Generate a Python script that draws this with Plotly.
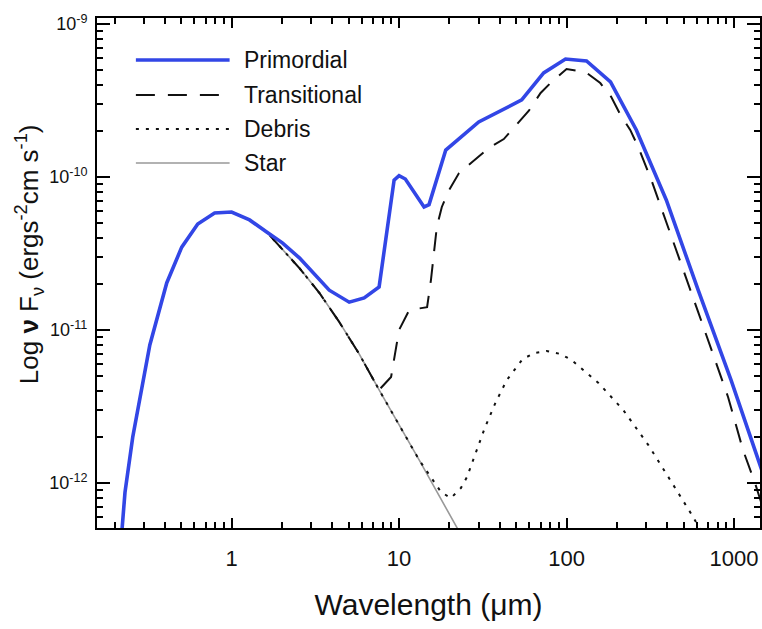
import plotly.graph_objects as go
import numpy as np

# ---------------- data (wavelength in micron, nu F_nu in erg s^-1 cm^-2) -------------
star_wl = [0.218, 0.231, 0.257, 0.325, 0.410, 0.504, 0.628, 0.792, 1.0, 1.28, 1.62,
           1.93, 2.54, 3.34, 4.39, 5.78, 7.60, 13.2, 22.2, 26.1]
star_f = [3.94e-13, 8.7e-13, 2.0e-12, 7.98e-12, 2.03e-11, 3.48e-11, 4.93e-11, 5.82e-11,
          5.90e-11, 5.24e-11, 4.37e-11, 3.54e-11, 2.54e-11, 1.75e-11, 1.13e-11, 6.97e-12,
          4.06e-12, 1.41e-12, 5.08e-13, 3.71e-13]

prim_wl = [0.218, 0.231, 0.257, 0.325, 0.410, 0.504, 0.628, 0.792, 1.0, 1.28, 1.62,
           2.01, 2.54, 3.83, 5.04, 6.19, 7.6, 9.34, 10.0, 10.9, 14.1, 15.1, 19.0, 29.9,
           54, 73, 98.6, 131.6, 183, 261, 394, 611, 960, 1429, 1592]
prim_f = [3.94e-13, 8.7e-13, 2.0e-12, 7.98e-12, 2.03e-11, 3.48e-11, 4.93e-11, 5.82e-11,
          5.90e-11, 5.24e-11, 4.37e-11, 3.71e-11, 2.96e-11, 1.82e-11, 1.52e-11, 1.62e-11,
          1.91e-11, 9.55e-11, 1.02e-10, 9.7e-11, 6.37e-11, 6.6e-11, 1.50e-10, 2.29e-10,
          3.19e-10, 4.79e-10, 5.9e-10, 5.73e-10, 4.18e-10, 2.03e-10, 7.08e-11, 1.82e-11,
          4.71e-12, 1.31e-12, 9.3e-13]

# transitional disk excess beyond the photosphere (wl > 7.6 micron)
trans_tail_wl = [8.96, 10.0, 11.5, 14.7, 15.5, 16.8, 18.0, 19.9, 22.8, 27.2, 34.4, 42.2,
                 50.4, 59.4, 70.0, 81.4, 100, 130, 159, 185, 210, 240, 268, 321, 611,
                 921, 1132, 1334, 1468]
trans_tail_f = [4.93e-12, 1.0e-11, 1.35e-11, 1.41e-11, 2.12e-11, 4.71e-11, 6.37e-11,
                8.22e-11, 1.06e-10, 1.25e-10, 1.55e-10, 1.77e-10, 2.19e-10, 2.70e-10,
                3.54e-10, 4.18e-10, 5.08e-10, 4.85e-10, 4.11e-10, 3.33e-10, 2.54e-10,
                2.03e-10, 1.57e-10, 9.55e-11, 1.31e-11, 3.65e-12, 1.64e-12, 1.0e-12, 7.2e-13]

# debris disk excess (wl > 13.2 micron)
debris_tail_wl = [17.8, 20.4, 23.4, 25.4, 28.7, 32.5, 37.8, 44.0, 54.7, 64.5, 76.0, 92.1,
                  107, 155, 218, 308, 422, 570, 653]
debris_tail_f = [8.73e-13, 7.97e-13, 9.27e-13, 1.09e-12, 1.57e-12, 2.29e-12, 3.38e-12,
                 4.71e-12, 6.46e-12, 7.08e-12, 7.29e-12, 6.97e-12, 6.37e-12, 4.51e-12,
                 3.0e-12, 1.77e-12, 1.02e-12, 6.0e-13, 4.57e-13]

series_names = ["Primordial", "Transitional", "Debris", "Star"]

x_tickvals = [1, 10, 100, 1000]
x_ticktext = ["1", "10", "100", "1000"]
y_tickvals = [1e-12, 1e-11, 1e-10, 1e-9]
y_ticktext = ["10<sup>-12</sup>", "10<sup>-11</sup>", "10<sup>-10</sup>", "10<sup>-9</sup>"]

x_title = "Wavelength (\u03bcm)"
y_title = "Log <b>\u03bd</b> F<sub>\u03bd</sub> (ergs<sup>-2</sup>cm s<sup>-1</sup>)"

# --------------------------------------------------------------------------
n_trans = star_wl.index(7.60) + 1
trans_wl = star_wl[:n_trans] + trans_tail_wl
trans_f = star_f[:n_trans] + trans_tail_f
n_deb = star_wl.index(13.2) + 1
debris_wl = star_wl[:n_deb] + debris_tail_wl
debris_f = star_f[:n_deb] + debris_tail_f

BLUE = "#3246e6"
styles = {
    "Primordial": dict(color=BLUE, width=3.6, dash="solid"),
    "Transitional": dict(color="#111111", width=2, dash="19px,13px"),
    "Debris": dict(color="#111111", width=2, dash="3px,7px"),
    "Star": dict(color="#999999", width=1.6, dash="solid"),
}

fig = go.Figure()
fig.add_trace(go.Scatter(x=star_wl, y=star_f, mode="lines", name="Star",
                         line=styles["Star"], showlegend=False))
fig.add_trace(go.Scatter(x=debris_wl, y=debris_f, mode="lines", name="Debris",
                         line=styles["Debris"], showlegend=False))
fig.add_trace(go.Scatter(x=trans_wl, y=trans_f, mode="lines", name="Transitional",
                         line=styles["Transitional"], showlegend=False))
fig.add_trace(go.Scatter(x=prim_wl, y=prim_f, mode="lines", name="Primordial",
                         line=styles["Primordial"], showlegend=False))

W, H = 762, 629
ML, MR, MT, MB = 97, 0, 18, 101
pw, ph = W - ML - MR, H - MT - MB

def px(x):
    return (x - ML) / pw

def py(y):
    return (H - MB - y) / ph

FONT = "Liberation Sans, Arial, Helvetica, sans-serif"

# hand-drawn legend (long line samples, as in the original)
rows_y = [60, 95, 129, 163]
for name, yy in zip(series_names, rows_y):
    st = styles[name]
    fig.add_shape(type="line", xref="paper", yref="paper",
                  x0=px(136), x1=px(230), y0=py(yy), y1=py(yy),
                  line=dict(color=st["color"], width=st["width"], dash=st["dash"]))
    fig.add_annotation(xref="paper", yref="paper", x=px(242), y=py(yy),
                       text=name, showarrow=False, xanchor="left", yanchor="middle",
                       font=dict(size=23, color="#111111", family=FONT))

# y-axis title placed as in the original (slightly above the axis centre)
fig.add_annotation(xref="paper", yref="paper", x=px(29), y=py(254), text=y_title,
                   textangle=-90, showarrow=False, xanchor="center", yanchor="middle",
                   font=dict(size=26, color="#111111", family=FONT))

# minor ticks
x_minor = [m * 10.0 ** d for d in range(-1, 4) for m in range(2, 10)]
y_minor = [m * 10.0 ** d for d in range(-13, -9) for m in range(2, 10)]

fig.update_layout(
    width=W, height=H,
    margin=dict(l=ML, r=MR, t=MT, b=MB, pad=0),
    paper_bgcolor="white", plot_bgcolor="white",
    font=dict(family=FONT, color="#111111"),
    showlegend=False,
)
fig.update_xaxes(
    type="log", range=[np.log10(0.1572), np.log10(1429)],
    tickmode="array", tickvals=x_tickvals, ticktext=x_ticktext,
    ticks="inside", ticklen=10, tickwidth=1.5, tickcolor="black",
    minor=dict(tickmode="array", tickvals=x_minor, ticks="inside", ticklen=6,
               tickwidth=1.5, tickcolor="black", showgrid=False),
    showline=True, linecolor="black", linewidth=2, mirror="ticks",
    showgrid=False, zeroline=False, ticklabelstandoff=10,
    tickfont=dict(size=22, family=FONT, color="#111111"),
    title=dict(text=x_title, font=dict(size=30, family=FONT, color="#111111"),
               standoff=24),
)
fig.update_yaxes(
    type="log", range=[-12.294, -8.961],
    tickmode="array", tickvals=y_tickvals, ticktext=y_ticktext,
    ticks="inside", ticklen=13, tickwidth=1.5, tickcolor="black",
    minor=dict(tickmode="array", tickvals=y_minor, ticks="inside", ticklen=6,
               tickwidth=1.5, tickcolor="black", showgrid=False),
    showline=True, linecolor="black", linewidth=2, mirror="ticks",
    showgrid=False, zeroline=False, ticklabelstandoff=4,
    tickfont=dict(size=18, family=FONT, color="#111111"),
)

fig.write_html("out.html")
